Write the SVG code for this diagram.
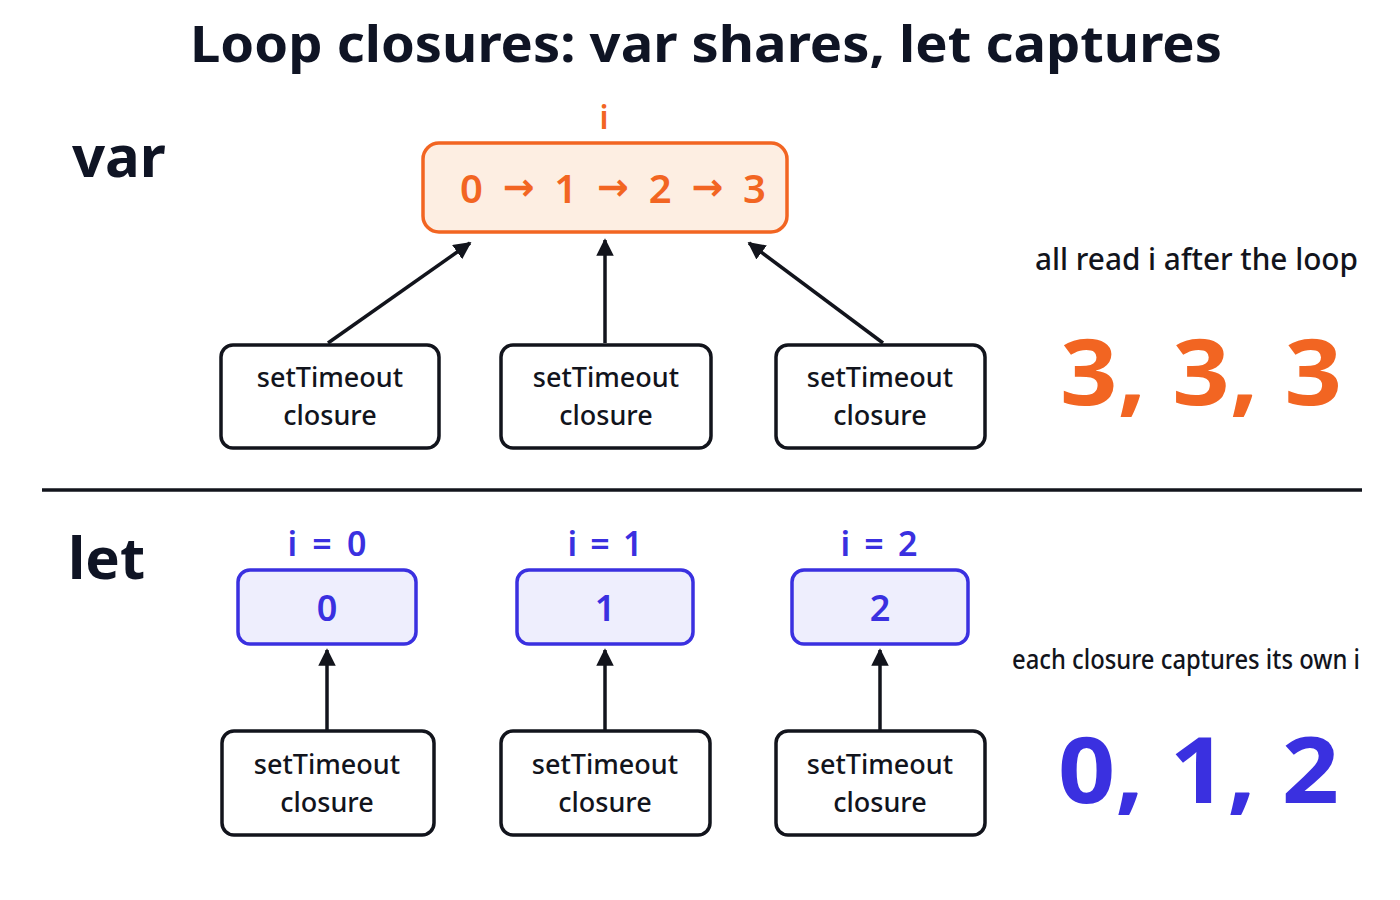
<svg xmlns="http://www.w3.org/2000/svg" width="1400" height="900" viewBox="0 0 1400 900">
<defs>
<style>
.t{font-family:"Noto Sans","Liberation Sans",sans-serif;}
.title{font-size:50px;font-weight:700;fill:#0f1424;}
.sec{font-size:58px;font-weight:700;fill:#0f1424;}
.cl{fill:#ffffff;stroke:#12141c;stroke-width:3.5;}
.clt{font-size:27px;font-weight:500;fill:#12141c;text-anchor:middle;}
.obox{fill:#fdeee2;stroke:#f26522;stroke-width:3.5;}
.ot{fill:#f26522;font-weight:600;}
.arr{font-family:"DejaVu Sans",sans-serif;font-weight:700;}
.bbox{fill:#eeeefd;stroke:#3a30e0;stroke-width:3.5;}
.bt{fill:#3a30e0;text-anchor:middle;font-weight:600;}
.note{font-weight:500;fill:#12141c;}
.big{font-size:92px;font-weight:700;}
.conn line{stroke:#12141c;stroke-width:3.5;marker-end:url(#ah);}
</style>
<marker id="ah" viewBox="0 0 10 10" refX="9" refY="5" markerWidth="5" markerHeight="5" orient="auto" markerUnits="strokeWidth">
<path d="M0,0 L10,5 L0,10 z" fill="#12141c"/>
</marker>
</defs>
<rect width="1400" height="900" fill="#ffffff"/>
<text class="t title" x="706" y="62" text-anchor="middle" textLength="1032" lengthAdjust="spacingAndGlyphs">Loop closures: var shares, let captures</text>
<text class="t sec" x="72" y="177">var</text>
<text class="t sec" x="68" y="579">let</text>
<line x1="42" y1="490" x2="1362" y2="490" stroke="#12141c" stroke-width="3.5"/>

<g id="var-i">
<text class="t ot" x="604" y="129" font-size="32" text-anchor="middle">i</text>
<rect class="obox" x="423" y="143" width="364" height="89" rx="16"/>
<text class="t ot" x="460" y="203" font-size="40" textLength="306" lengthAdjust="spacing">0 <tspan class="arr" font-size="38" dy="-3">→</tspan><tspan dy="3"> 1 </tspan><tspan class="arr" font-size="38" dy="-3">→</tspan><tspan dy="3"> 2 </tspan><tspan class="arr" font-size="38" dy="-3">→</tspan><tspan dy="3"> 3</tspan></text>
</g>

<g id="var-c1">
<rect class="cl" x="221" y="345" width="218" height="103" rx="12"/>
<text class="t clt" x="330" y="387">setTimeout</text>
<text class="t clt" x="330" y="425">closure</text>
</g>
<g id="var-c2">
<rect class="cl" x="501" y="345" width="210" height="103" rx="12"/>
<text class="t clt" x="606" y="387">setTimeout</text>
<text class="t clt" x="606" y="425">closure</text>
</g>
<g id="var-c3">
<rect class="cl" x="776" y="345" width="209" height="103" rx="12"/>
<text class="t clt" x="880" y="387">setTimeout</text>
<text class="t clt" x="880" y="425">closure</text>
</g>

<g id="let-0">
<text class="t bt" x="327" y="556" font-size="34" textLength="79" lengthAdjust="spacing">i = 0</text>
<rect class="bbox" x="238" y="570" width="178" height="74" rx="12"/>
<text class="t bt" x="327" y="621" font-size="36">0</text>
</g>
<g id="let-1">
<text class="t bt" x="605" y="556" font-size="34" textLength="75" lengthAdjust="spacing">i = 1</text>
<rect class="bbox" x="517" y="570" width="176" height="74" rx="12"/>
<text class="t bt" x="605" y="621" font-size="36">1</text>
</g>
<g id="let-2">
<text class="t bt" x="879" y="556" font-size="34" textLength="77" lengthAdjust="spacing">i = 2</text>
<rect class="bbox" x="792" y="570" width="176" height="74" rx="12"/>
<text class="t bt" x="880" y="621" font-size="36">2</text>
</g>

<g id="let-c1">
<rect class="cl" x="222" y="731" width="212" height="104" rx="12"/>
<text class="t clt" x="327" y="774">setTimeout</text>
<text class="t clt" x="327" y="812">closure</text>
</g>
<g id="let-c2">
<rect class="cl" x="501" y="731" width="209" height="104" rx="12"/>
<text class="t clt" x="605" y="774">setTimeout</text>
<text class="t clt" x="605" y="812">closure</text>
</g>
<g id="let-c3">
<rect class="cl" x="776" y="731" width="209" height="104" rx="12"/>
<text class="t clt" x="880" y="774">setTimeout</text>
<text class="t clt" x="880" y="812">closure</text>
</g>

<g id="connectors" class="conn">
<line x1="328" y1="343" x2="470" y2="243"/>
<line x1="605" y1="343" x2="605" y2="240"/>
<line x1="883" y1="343" x2="749" y2="243"/>
<line x1="327" y1="730" x2="327" y2="650"/>
<line x1="605" y1="730" x2="605" y2="650"/>
<line x1="880" y1="730" x2="880" y2="650"/>
</g>

<g id="var-result">
<text class="t note" x="1035" y="270" font-size="30" textLength="323" lengthAdjust="spacingAndGlyphs">all read i after the loop</text>
<text class="t big" x="1060" y="405" fill="#f26522" textLength="282" lengthAdjust="spacingAndGlyphs">3, 3, 3</text>
</g>
<g id="let-result">
<text class="t note" transform="translate(1012 669) scale(0.8 1)" x="0" y="0" font-size="28" textLength="435" lengthAdjust="spacingAndGlyphs">each closure captures its own i</text>
<text class="t big" x="1058" y="803" fill="#3a30e0" textLength="281" lengthAdjust="spacingAndGlyphs">0, 1, 2</text>
</g>
</svg>
